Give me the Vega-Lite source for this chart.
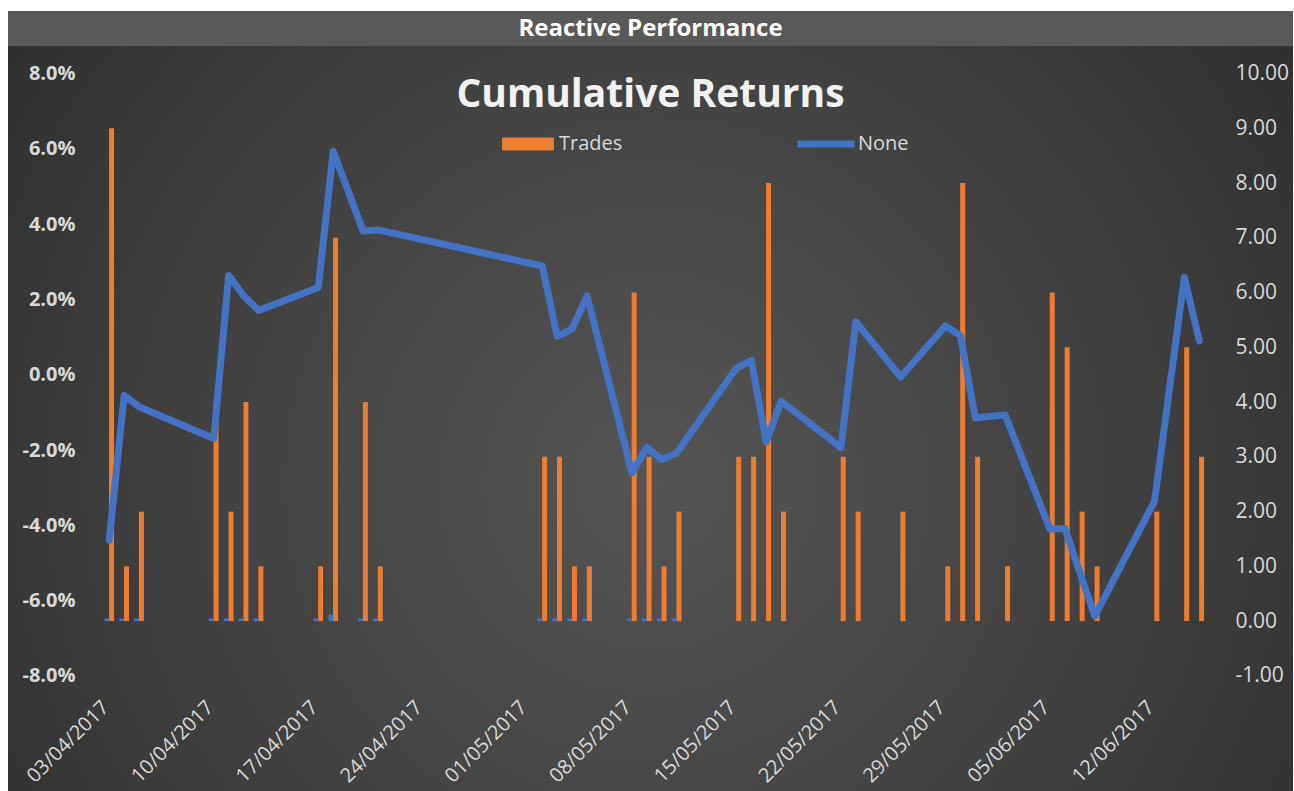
{
  "$schema": "https://vega.github.io/schema/vega-lite/v6.json",
  "background": "#ffffff",
  "padding": {"left": 8, "top": 11, "right": 1, "bottom": 0},
  "spacing": 0,
  "config": {
    "font": "Open Sans",
    "view": {"stroke": null},
    "locale": {"number": {"decimal": ".", "thousands": ",", "grouping": [3], "currency": ["$", ""], "minus": "-"}}
  },
  "vconcat": [
    {
      "width": 1285,
      "height": 35,
      "view": {"fill": "#595959", "stroke": null},
      "data": {"values": [{"t": "Reactive Performance"}]},
      "mark": {"type": "text", "font": "Open Sans", "fontSize": 24, "fontWeight": "bold", "color": "#ffffff", "align": "center", "baseline": "middle"},
      "encoding": {"text": {"field": "t", "type": "nominal"}}
    },
    {
      "width": 1285,
      "height": 745,
      "view": {
        "stroke": null,
        "fill": {
          "gradient": "radial",
          "x1": 0.5, "y1": 0.55, "r1": 0,
          "x2": 0.5, "y2": 0.55, "r2": 0.75,
          "stops": [
            {"offset": 0, "color": "#555555"},
            {"offset": 0.6, "color": "#3b3b3b"},
            {"offset": 1, "color": "#252525"}
          ]
        }
      },
      "title": {
        "text": "Cumulative Returns",
        "font": "Open Sans",
        "fontSize": 39,
        "fontWeight": "bold",
        "color": "#f2f2f2",
        "anchor": "middle",
        "frame": "group",
        "baseline": "alphabetic",
        "offset": -100
      },
      "data": {
        "values": [
          {"d": "2017-04-03", "trades": 9, "ret": -0.0439, "aux": 0.05},
          {"d": "2017-04-04", "trades": 1, "ret": -0.0055, "aux": 0.05},
          {"d": "2017-04-05", "trades": 2, "ret": -0.0085, "aux": 0.05},
          {"d": "2017-04-10", "trades": 4, "ret": -0.0169, "aux": 0.05},
          {"d": "2017-04-11", "trades": 2, "ret": 0.0264, "aux": 0.05},
          {"d": "2017-04-12", "trades": 4, "ret": 0.0210, "aux": 0.05},
          {"d": "2017-04-13", "trades": 1, "ret": 0.0171, "aux": 0.05},
          {"d": "2017-04-17", "trades": 1, "ret": 0.0232, "aux": 0.05},
          {"d": "2017-04-18", "trades": 7, "ret": 0.0594, "aux": 0.12},
          {"d": "2017-04-20", "trades": 4, "ret": 0.0382, "aux": 0.05},
          {"d": "2017-04-21", "trades": 1, "ret": 0.0385, "aux": 0.05},
          {"d": "2017-05-02", "trades": 3, "ret": 0.0289, "aux": 0.05},
          {"d": "2017-05-03", "trades": 3, "ret": 0.0102, "aux": 0.05},
          {"d": "2017-05-04", "trades": 1, "ret": 0.0122, "aux": 0.05},
          {"d": "2017-05-05", "trades": 1, "ret": 0.0210, "aux": 0.05},
          {"d": "2017-05-08", "trades": 6, "ret": -0.0260, "aux": 0.05},
          {"d": "2017-05-09", "trades": 3, "ret": -0.0193, "aux": 0.05},
          {"d": "2017-05-10", "trades": 1, "ret": -0.0225, "aux": 0.05},
          {"d": "2017-05-11", "trades": 2, "ret": -0.0208, "aux": 0.05},
          {"d": "2017-05-15", "trades": 3, "ret": 0.0018, "aux": null},
          {"d": "2017-05-16", "trades": 3, "ret": 0.0038, "aux": null},
          {"d": "2017-05-17", "trades": 8, "ret": -0.0178, "aux": null},
          {"d": "2017-05-18", "trades": 2, "ret": -0.0070, "aux": null},
          {"d": "2017-05-22", "trades": 3, "ret": -0.0193, "aux": null},
          {"d": "2017-05-23", "trades": 2, "ret": 0.0141, "aux": null},
          {"d": "2017-05-26", "trades": 2, "ret": -0.0006, "aux": null},
          {"d": "2017-05-29", "trades": 1, "ret": 0.0130, "aux": null},
          {"d": "2017-05-30", "trades": 8, "ret": 0.0104, "aux": null},
          {"d": "2017-05-31", "trades": 3, "ret": -0.0114, "aux": null},
          {"d": "2017-06-02", "trades": 1, "ret": -0.0107, "aux": null},
          {"d": "2017-06-05", "trades": 6, "ret": -0.0410, "aux": null},
          {"d": "2017-06-06", "trades": 5, "ret": -0.0408, "aux": null},
          {"d": "2017-06-07", "trades": 2, "ret": -0.0525, "aux": null},
          {"d": "2017-06-08", "trades": 1, "ret": -0.0641, "aux": null},
          {"d": "2017-06-12", "trades": 2, "ret": -0.0336, "aux": null},
          {"d": "2017-06-14", "trades": 5, "ret": 0.0259, "aux": null},
          {"d": "2017-06-15", "trades": 3, "ret": 0.0090, "aux": null}
        ]
      },
      "encoding": {
        "x": {
          "field": "d",
          "type": "temporal",
          "scale": {
            "type": "utc",
            "domain": [
              {"year": 2017, "month": 3, "date": 27, "hours": 13, "minutes": 19, "utc": true},
              {"year": 2017, "month": 6, "date": 20, "hours": 22, "minutes": 34, "utc": true}
            ]
          },
          "axis": {
            "title": null,
            "orient": "bottom",
            "offset": -115.1,
            "domain": false,
            "ticks": false,
            "tickSize": 0,
            "grid": false,
            "format": "%d/%m/%Y",
            "labelAngle": -45,
            "labelAlign": "right",
            "labelBaseline": "top",
            "labelPadding": 21,
            "labelOffset": -11,
            "labelFont": "Open Sans",
            "labelFontSize": 20,
            "labelColor": "#d9d9d9",
            "labelOverlap": false,
            "labelBound": false,
            "labelFlush": false,
            "values": [
              {"year": 2017, "month": 4, "date": 3, "utc": true},
              {"year": 2017, "month": 4, "date": 10, "utc": true},
              {"year": 2017, "month": 4, "date": 17, "utc": true},
              {"year": 2017, "month": 4, "date": 24, "utc": true},
              {"year": 2017, "month": 5, "date": 1, "utc": true},
              {"year": 2017, "month": 5, "date": 8, "utc": true},
              {"year": 2017, "month": 5, "date": 15, "utc": true},
              {"year": 2017, "month": 5, "date": 22, "utc": true},
              {"year": 2017, "month": 5, "date": 29, "utc": true},
              {"year": 2017, "month": 6, "date": 5, "utc": true},
              {"year": 2017, "month": 6, "date": 12, "utc": true}
            ]
          }
        }
      },
      "layer": [
        {
          "data": {"values": [{"g": -0.08}, {"g": -0.06}, {"g": -0.04}, {"g": -0.02}, {"g": 0}, {"g": 0.02}, {"g": 0.04}, {"g": 0.06}, {"g": 0.08}]},
          "mark": {"type": "rule", "color": "#ffffff", "opacity": 0.13, "strokeWidth": 1.5},
          "encoding": {
            "x": {"datum": {"year": 2017, "month": 4, "date": 2, "hours": 12, "minutes": 30, "utc": true}, "type": "temporal"},
            "x2": {"datum": {"year": 2017, "month": 6, "date": 15, "hours": 12, "utc": true}},
            "y": {"field": "g", "type": "quantitative", "scale": {"domain": [-0.11057, 0.08735], "nice": false, "zero": false}, "axis": null}
          }
        },
        {
          "mark": {"type": "bar", "width": 5, "xOffset": 2.3, "color": "#ED7D31"},
          "encoding": {
            "y": {
              "field": "trades",
              "type": "quantitative",
              "scale": {"domain": [-3.103, 10.504], "nice": false, "zero": false},
              "axis": {
                "title": null,
                "orient": "right",
                "offset": -82,
                "values": [-1, 0, 1, 2, 3, 4, 5, 6, 7, 8, 9, 10],
                "format": ".2f",
                "domain": false,
                "ticks": false,
                "tickSize": 0,
                "grid": false,
                "labelPadding": 24,
                "labelFont": "Open Sans",
                "labelFontSize": 21,
                "labelColor": "#d9d9d9",
                "labelOverlap": false,
                "labelBound": false,
                "labelFlush": false
              }
            },
            "fill": {
              "datum": "Trades",
              "scale": {"range": ["#ED7D31"]},
              "legend": {
                "title": null,
                "orient": "none",
                "legendX": 494,
                "legendY": 107,
                "padding": 0,
                "symbolType": "M-1,-0.25L1,-0.25L1,0.25L-1,0.25Z",
                "symbolSize": 2704,
                "symbolStrokeWidth": 0,
                "symbolOpacity": 1,
                "labelOffset": 5,
                "labelFont": "Open Sans",
                "labelFontSize": 20,
                "labelColor": "#d9d9d9"
              }
            }
          }
        },
        {
          "mark": {"type": "bar", "width": 5, "xOffset": -2.3, "color": "#4472C4"},
          "encoding": {
            "y": {"field": "aux", "type": "quantitative", "scale": {"domain": [-3.103, 10.504], "nice": false, "zero": false}, "axis": null}
          }
        },
        {
          "mark": {"type": "line", "strokeWidth": 7, "strokeCap": "round", "strokeJoin": "round"},
          "encoding": {
            "y": {
              "field": "ret",
              "type": "quantitative",
              "scale": {"domain": [-0.11057, 0.08735], "nice": false, "zero": false},
              "axis": {
                "title": null,
                "orient": "left",
                "offset": -90,
                "values": [-0.08, -0.06, -0.04, -0.02, 0, 0.02, 0.04, 0.06, 0.08],
                "format": ".1%",
                "domain": false,
                "ticks": false,
                "tickSize": 0,
                "grid": false,
                "labelPadding": 23,
                "labelFont": "Open Sans",
                "labelFontSize": 20,
                "labelFontWeight": "bold",
                "labelColor": "#d9d9d9",
                "labelOverlap": false,
                "labelBound": false,
                "labelFlush": false
              }
            },
            "stroke": {
              "datum": "None",
              "scale": {"range": ["#4472C4"]},
              "legend": {
                "title": null,
                "orient": "none",
                "legendX": 786,
                "legendY": 101,
                "padding": 0,
                "symbolType": "stroke",
                "symbolSize": 3249,
                "symbolStrokeWidth": 7,
                "labelOffset": 0,
                "labelFont": "Open Sans",
                "labelFontSize": 20,
                "labelColor": "#d9d9d9"
              }
            }
          }
        }
      ],
      "resolve": {"scale": {"y": "independent"}}
    }
  ]
}
